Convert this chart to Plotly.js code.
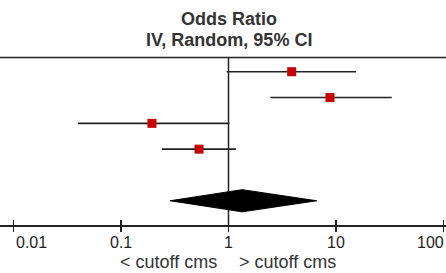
<!DOCTYPE html>
<html>
<head>
<meta charset="utf-8">
<script src="https://cdn.plot.ly/plotly-3.0.1.min.js"></script>
<style>html,body{margin:0;padding:0;background:#fff;}#chart{width:446px;height:273px;}</style>
</head>
<body>
<div id="chart"></div>
<script>
// ---- data ----
const studyRows = [1, 2, 3, 4];
const studyOR = [3.87, 8.79, 0.194, 0.532];
const studyLower = [0.96, 2.45, 0.0398, 0.24];
const studyUpper = [15.35, 33.0, 1.02, 1.17];
const pooledRow = 6;
const pooledOR = 1.34;
const pooledLower = 0.286;
const pooledUpper = 6.61;
const tickValues = [0.01, 0.1, 1, 10, 100];
const tickLabels = ['0.01', '0.1', '1', '10', '100'];
const titleLines = ['Odds Ratio', 'IV, Random, 95% CI'];
const favoursLeft = '< cutoff cms';
const favoursRight = '> cutoff cms';

// ---- layout constants ----
const W = 446, H = 273;
const axisPx = 225, topLinePx = 57.5;
const axisPos = 1 - axisPx / H;
const topLinePos = 1 - topLinePx / H;
const xRange = [-2.1256, 2.0233];
const yRange = [8.8, -1.78];
const diamondHalf = 0.43;

// CI segments
const ciX = [], ciY = [];
studyRows.forEach((r, i) => {
  ciX.push(studyLower[i], studyUpper[i], null);
  ciY.push(r, r, null);
});

const traces = [
  {x: ciX, y: ciY, mode: 'lines', line: {color: '#222', width: 1.6}, hoverinfo: 'skip', showlegend: false},
  {x: studyOR, y: studyRows, mode: 'markers', marker: {symbol: 'square', size: 9, color: '#c80000', line: {width: 0}}, hoverinfo: 'skip', showlegend: false},
  {x: [pooledLower, pooledOR, pooledUpper, pooledOR, pooledLower],
   y: [pooledRow, pooledRow - diamondHalf, pooledRow, pooledRow + diamondHalf, pooledRow],
   mode: 'lines', fill: 'toself', fillcolor: '#000', line: {color: '#000', width: 1}, hoverinfo: 'skip', showlegend: false},
  {x: tickValues, y: tickValues.map(() => null), xaxis: 'x2', mode: 'none', hoverinfo: 'skip', showlegend: false}
];

const annotations = [];
titleLines.forEach((t, i) => {
  annotations.push({xref: 'x', yref: 'paper', x: 0, y: 1 - (i === 0 ? 19.5 : 39.5) / H,
    text: '<b>' + t + '</b>', showarrow: false, xanchor: 'center', yanchor: 'middle',
    font: {family: 'Liberation Sans, Arial, sans-serif', size: 18, color: '#333'}});
});
tickValues.forEach((v, i) => {
  const anchor = i === 0 ? 'left' : (i === tickValues.length - 1 ? 'right' : 'center');
  annotations.push({xref: 'x', yref: 'paper', x: Math.log10(v), y: 1 - 242 / H,
    text: tickLabels[i], showarrow: false, xanchor: anchor, yanchor: 'middle',
    xshift: i === tickValues.length - 1 ? 2 : 0,
    font: {family: 'Liberation Sans, Arial, sans-serif', size: 16, color: '#222'}});
});
annotations.push({xref: 'x', yref: 'paper', x: 0, y: 1 - 262 / H, text: favoursLeft, showarrow: false,
  xanchor: 'right', yanchor: 'middle', xshift: -10,
  font: {family: 'Liberation Sans, Arial, sans-serif', size: 18, color: '#333'}});
annotations.push({xref: 'x', yref: 'paper', x: 0, y: 1 - 262 / H, text: favoursRight, showarrow: false,
  xanchor: 'left', yanchor: 'middle', xshift: 8,
  font: {family: 'Liberation Sans, Arial, sans-serif', size: 18, color: '#333'}});

const layout = {
  width: W, height: H,
  margin: {l: 0, r: 0, t: 0, b: 0, pad: 0},
  paper_bgcolor: '#fff', plot_bgcolor: '#fff',
  showlegend: false,
  xaxis: {type: 'log', range: xRange, autorange: false, anchor: 'free', position: axisPos,
    showline: true, linecolor: '#222', linewidth: 1.5, ticks: 'outside', ticklen: 5, tickwidth: 1.5,
    tickcolor: '#222', tickvals: tickValues, showticklabels: false, showgrid: false, zeroline: false, fixedrange: true},
  xaxis2: {type: 'log', range: xRange, autorange: false, overlaying: 'x', anchor: 'free', position: axisPos,
    showline: false, ticks: 'inside', ticklen: 5, tickwidth: 1.5, tickcolor: '#222', tickvals: tickValues,
    showticklabels: false, showgrid: false, zeroline: false, fixedrange: true},
  yaxis: {range: yRange, autorange: false, visible: false, showgrid: false, zeroline: false, fixedrange: true},
  shapes: [
    {type: 'line', xref: 'paper', yref: 'paper', x0: 0, x1: 1, y0: topLinePos, y1: topLinePos,
      line: {color: '#222', width: 1.5}},
    {type: 'line', xref: 'x', yref: 'paper', x0: 1, x1: 1, y0: axisPos, y1: topLinePos,
      line: {color: '#222', width: 1.5}, layer: 'below'}
  ],
  annotations: annotations
};

Plotly.newPlot('chart', traces, layout, {staticPlot: true, displayModeBar: false});
</script>
</body>
</html>
